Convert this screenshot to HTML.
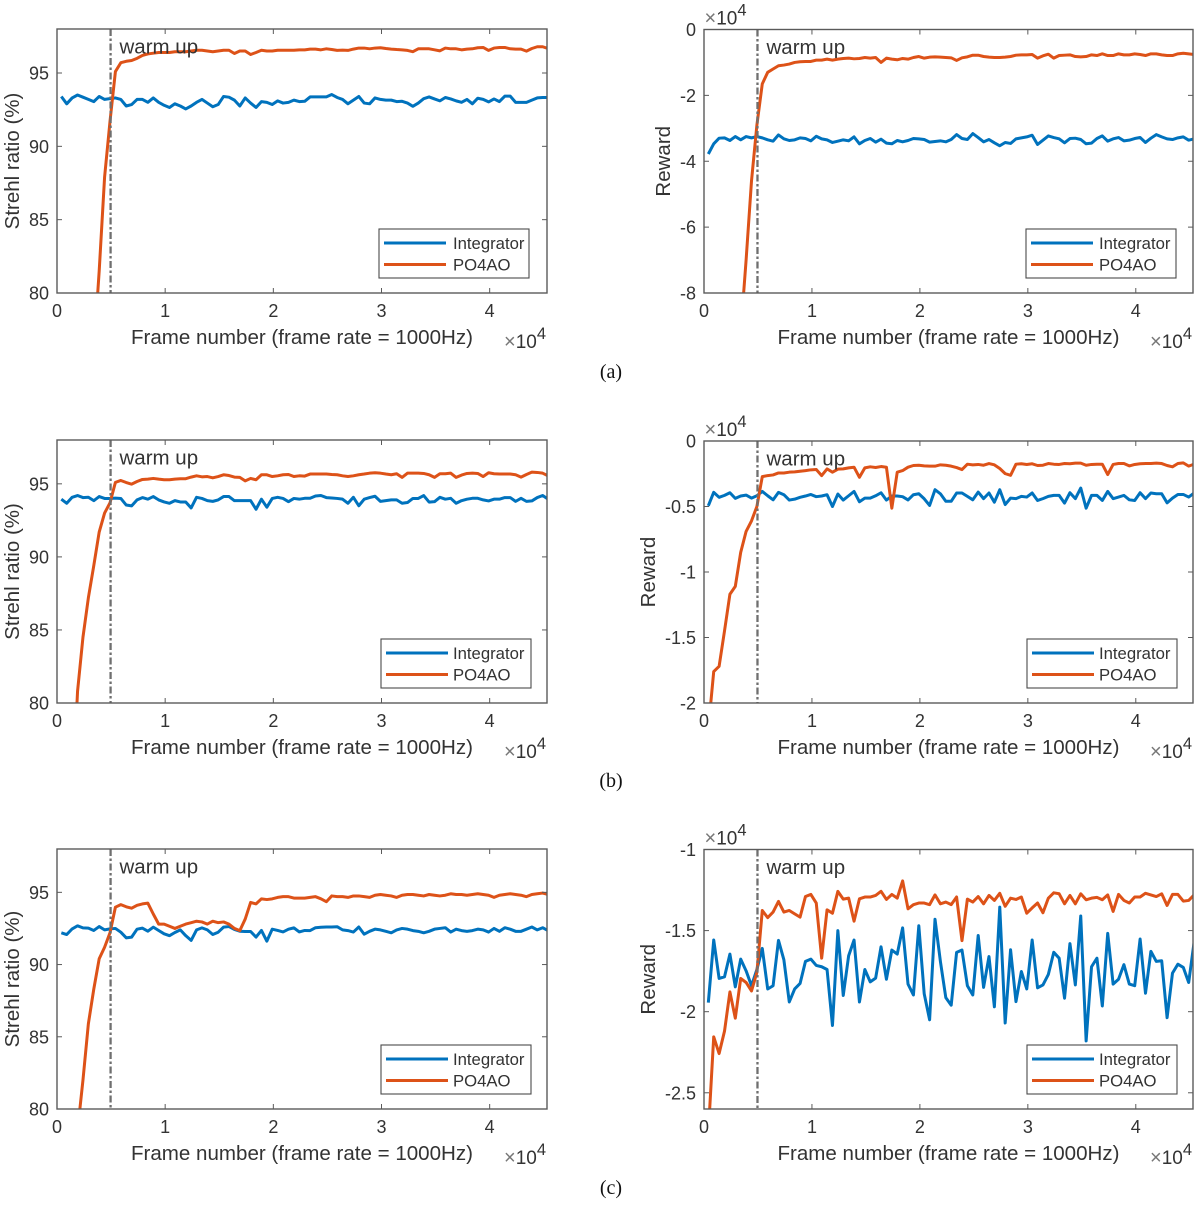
<!DOCTYPE html>
<html lang="en">
<head>
<meta charset="utf-8">
<title>Strehl ratio and reward charts</title>
<style>
html,body{margin:0;padding:0;background:#fff;width:1200px;height:1205px;overflow:hidden}
svg{display:block;font-family:"Liberation Sans",sans-serif;filter:blur(0.35px)}
</style>
</head>
<body>
<svg id="figure" xmlns="http://www.w3.org/2000/svg" width="1200" height="1205" viewBox="0 0 1200 1205">
<text x="611" y="378" text-anchor="middle" font-family="Liberation Serif, serif" font-size="20" fill="#111">(a)</text>
<text x="611" y="787" text-anchor="middle" font-family="Liberation Serif, serif" font-size="20" fill="#111">(b)</text>
<text x="611" y="1194" text-anchor="middle" font-family="Liberation Serif, serif" font-size="20" fill="#111">(c)</text>
</svg>
<script>
const frameStart = 400;
const frameStep = 500;
const warmUpFrame = 5000;
const xLimits = [0, 45300];
const xTicks = [0, 1, 2, 3, 4];
const legendLabels = ['Integrator', 'PO4AO'];

const strehlLimits = [80, 98];
const strehlTicks = [80, 85, 90, 95];
const rewardLimitsA = [-8, 0];
const rewardTicksA = [-8, -6, -4, -2, 0];
const rewardLimitsB = [-2, 0];
const rewardTicksB = [-2, -1.5, -1, -0.5, 0];
const rewardLimitsC = [-2.6, -1];
const rewardTicksC = [-2.5, -2, -1.5, -1];

const strehlIntegratorA = [93.4,92.9,93.3,93.5,93.35,93.2,93.05,93.4,93.2,93.25,93.3,93.2,92.75,92.85,93.2,93.2,93.0,93.3,93.0,92.8,92.65,92.9,92.75,92.55,92.75,93.0,93.2,92.95,92.7,92.85,93.4,93.35,93.15,92.75,93.3,92.95,92.65,93.05,93.0,92.85,93.1,92.95,93.0,93.15,93.05,93.07,93.37,93.37,93.37,93.37,93.53,93.33,93.2,92.9,93.15,93.4,92.95,92.9,93.3,93.2,93.15,93.15,93.05,93.07,92.95,92.73,92.95,93.25,93.37,93.23,93.1,93.33,93.23,93.1,93.0,93.2,92.9,93.28,93.2,93.03,93.23,93.05,93.42,93.42,93.0,93.0,93.0,93.15,93.3,93.33,93.33];
const strehlPo4aoA = [55,60,64,68,71,74,76,81.5,87.9,91.7,95.1,95.7,95.8,95.85,96,96.2,96.3,96.35,96.4,96.4,96.4,96.45,96.45,96.45,96.5,96.55,96.55,96.5,96.45,96.5,96.55,96.55,96.33,96.5,96.5,96.26,96.4,96.55,96.5,96.5,96.55,96.55,96.55,96.55,96.58,96.58,96.63,96.63,96.58,96.65,96.6,96.54,96.56,96.54,96.63,96.7,96.7,96.65,96.7,96.72,96.67,96.63,96.6,96.58,96.54,96.45,96.65,96.65,96.65,96.58,96.51,96.7,96.65,96.65,96.58,96.63,96.65,96.72,96.74,96.54,96.7,96.74,96.74,96.65,96.63,96.63,96.49,96.67,96.79,96.79,96.67];
const rewardIntegratorA = [-3.78,-3.47,-3.3,-3.29,-3.37,-3.25,-3.35,-3.25,-3.29,-3.25,-3.29,-3.35,-3.39,-3.2,-3.32,-3.37,-3.35,-3.29,-3.31,-3.38,-3.24,-3.32,-3.35,-3.43,-3.39,-3.35,-3.38,-3.26,-3.47,-3.37,-3.31,-3.42,-3.33,-3.45,-3.47,-3.37,-3.41,-3.37,-3.31,-3.32,-3.34,-3.42,-3.4,-3.38,-3.41,-3.34,-3.19,-3.31,-3.34,-3.16,-3.28,-3.41,-3.34,-3.44,-3.53,-3.43,-3.46,-3.32,-3.29,-3.26,-3.21,-3.49,-3.36,-3.23,-3.28,-3.32,-3.44,-3.31,-3.3,-3.34,-3.47,-3.45,-3.31,-3.23,-3.39,-3.32,-3.28,-3.38,-3.36,-3.31,-3.28,-3.43,-3.3,-3.19,-3.26,-3.32,-3.34,-3.29,-3.26,-3.36,-3.32];
const rewardPo4aoA = [-16,-15,-14,-13,-12,-10.5,-9.2,-7,-4.6,-2.9,-1.65,-1.3,-1.2,-1.1,-1.08,-1.05,-1.0,-0.98,-0.97,-0.97,-0.93,-0.93,-0.9,-0.93,-0.9,-0.88,-0.87,-0.89,-0.88,-0.85,-0.87,-0.85,-1.0,-0.87,-0.9,-0.92,-0.88,-0.9,-0.85,-0.82,-0.87,-0.84,-0.83,-0.84,-0.85,-0.86,-0.94,-0.86,-0.83,-0.78,-0.78,-0.82,-0.84,-0.85,-0.85,-0.84,-0.82,-0.78,-0.77,-0.77,-0.76,-0.87,-0.8,-0.75,-0.87,-0.79,-0.78,-0.77,-0.82,-0.83,-0.82,-0.77,-0.79,-0.74,-0.79,-0.79,-0.74,-0.77,-0.77,-0.74,-0.76,-0.79,-0.74,-0.74,-0.77,-0.79,-0.79,-0.74,-0.72,-0.74,-0.76];

const strehlIntegratorB = [93.95,93.67,94.08,94.2,94.06,94.08,93.85,94.13,94,94,94.02,94,93.55,93.49,93.9,94.06,93.95,94.13,93.9,93.76,93.67,93.85,93.76,93.76,93.35,94.08,94,93.85,93.8,93.9,94.13,94.13,93.85,93.85,93.85,93.85,93.26,93.95,93.4,94,94.08,94,93.78,94,93.95,94.01,94.01,94.17,94.2,94.06,94.03,94,93.95,93.67,94.08,93.5,93.95,94.06,94.15,93.8,93.85,93.9,93.9,93.67,93.72,94,94,94.2,93.75,93.78,94.08,93.95,94.01,93.67,93.85,93.95,94.01,94.01,93.9,93.83,93.95,93.95,94.06,94.06,93.8,94.01,93.8,93.83,94.06,94.2,93.95];
const strehlPo4aoB = [60,66,73,80.8,84.5,87.2,89.4,91.7,93,93.7,95.1,95.23,95.09,94.98,95.16,95.3,95.32,95.37,95.32,95.28,95.28,95.32,95.35,95.35,95.46,95.55,95.48,95.5,95.41,95.5,95.62,95.57,95.46,95.44,95.2,95.37,95.28,95.62,95.62,95.5,95.55,95.62,95.64,95.5,95.55,95.53,95.67,95.67,95.67,95.67,95.64,95.62,95.55,95.5,95.55,95.62,95.67,95.73,95.76,95.73,95.67,95.62,95.69,95.44,95.73,95.73,95.73,95.71,95.62,95.44,95.69,95.69,95.73,95.44,95.6,95.71,95.73,95.71,95.5,95.76,95.69,95.67,95.67,95.67,95.62,95.46,95.64,95.8,95.78,95.73,95.55];
const rewardIntegratorB = [-0.495,-0.392,-0.43,-0.415,-0.395,-0.438,-0.42,-0.413,-0.436,-0.418,-0.385,-0.418,-0.449,-0.392,-0.41,-0.451,-0.444,-0.43,-0.42,-0.408,-0.425,-0.42,-0.41,-0.5,-0.405,-0.451,-0.418,-0.385,-0.464,-0.436,-0.436,-0.418,-0.395,-0.451,-0.42,-0.42,-0.425,-0.45,-0.41,-0.403,-0.441,-0.492,-0.372,-0.403,-0.46,-0.46,-0.397,-0.397,-0.423,-0.449,-0.39,-0.44,-0.397,-0.467,-0.372,-0.485,-0.436,-0.44,-0.423,-0.428,-0.397,-0.454,-0.44,-0.423,-0.415,-0.415,-0.474,-0.395,-0.44,-0.359,-0.513,-0.415,-0.415,-0.454,-0.385,-0.44,-0.428,-0.415,-0.449,-0.454,-0.395,-0.44,-0.397,-0.403,-0.403,-0.472,-0.436,-0.408,-0.408,-0.428,-0.397];
const rewardPo4aoB = [-2.2,-1.76,-1.72,-1.45,-1.17,-1.11,-0.85,-0.69,-0.61,-0.5,-0.272,-0.264,-0.259,-0.244,-0.244,-0.238,-0.236,-0.231,-0.226,-0.22,-0.218,-0.264,-0.213,-0.238,-0.215,-0.213,-0.205,-0.2,-0.277,-0.205,-0.197,-0.202,-0.195,-0.2,-0.513,-0.238,-0.226,-0.2,-0.187,-0.185,-0.19,-0.192,-0.192,-0.182,-0.185,-0.192,-0.203,-0.218,-0.177,-0.182,-0.179,-0.185,-0.172,-0.182,-0.21,-0.249,-0.262,-0.177,-0.174,-0.179,-0.174,-0.187,-0.185,-0.172,-0.177,-0.179,-0.172,-0.174,-0.169,-0.169,-0.185,-0.179,-0.177,-0.177,-0.256,-0.179,-0.172,-0.172,-0.19,-0.179,-0.174,-0.172,-0.172,-0.169,-0.172,-0.187,-0.197,-0.172,-0.167,-0.192,-0.177];

const strehlIntegratorC = [92.2,92.08,92.47,92.68,92.54,92.52,92.36,92.63,92.4,92.47,92.5,92.24,91.85,91.9,92.45,92.52,92.31,92.59,92.36,92.13,92,92.22,92.4,92,91.67,92.4,92.54,92.4,92.08,92.24,92.59,92.63,92.43,92.31,92.29,92.29,91.9,92.36,91.62,92.45,92.36,92.26,92.45,92.54,92.26,92.36,92.35,92.55,92.58,92.6,92.6,92.62,92.4,92.35,92.25,92.6,92.1,92.3,92.45,92.4,92.3,92.2,92.4,92.5,92.45,92.35,92.3,92.2,92.3,92.45,92.5,92.55,92.25,92.45,92.35,92.3,92.35,92.45,92.4,92.25,92.5,92.3,92.55,92.45,92.3,92.3,92.45,92.6,92.4,92.55,92.35];
const strehlPo4aoC = [74,75,76.5,78.5,82,85.9,88.3,90.4,91.2,92.2,93.97,94.15,94,93.9,94.1,94.2,94.25,93.5,92.8,92.8,92.65,92.5,92.65,92.8,92.9,93,92.95,92.8,93,92.9,92.95,92.8,92.5,92.35,93.15,94.3,94.2,94.55,94.5,94.55,94.65,94.7,94.7,94.6,94.6,94.6,94.65,94.7,94.55,94.35,94.75,94.7,94.7,94.65,94.75,94.75,94.7,94.65,94.8,94.85,94.8,94.75,94.65,94.8,94.85,94.85,94.8,94.75,94.85,94.8,94.75,94.8,94.9,94.85,94.85,94.8,94.85,94.9,94.85,94.8,94.65,94.8,94.85,94.9,94.85,94.8,94.7,94.85,94.9,94.95,94.85];
const rewardIntegratorC = [-1.944,-1.558,-1.795,-1.785,-1.645,-1.847,-1.676,-1.748,-1.84,-1.74,-1.61,-1.86,-1.84,-1.56,-1.68,-1.94,-1.86,-1.826,-1.69,-1.676,-1.715,-1.723,-1.74,-2.085,-1.5,-1.9,-1.655,-1.558,-1.94,-1.74,-1.816,-1.793,-1.6,-1.8,-1.62,-1.645,-1.483,-1.83,-1.897,-1.47,-1.89,-2.05,-1.43,-1.69,-1.913,-1.96,-1.634,-1.62,-1.84,-1.897,-1.53,-1.85,-1.66,-1.97,-1.355,-2.07,-1.618,-1.938,-1.752,-1.86,-1.558,-1.853,-1.835,-1.77,-1.634,-1.67,-1.917,-1.58,-1.835,-1.41,-2.18,-1.723,-1.67,-1.965,-1.517,-1.83,-1.8,-1.71,-1.83,-1.84,-1.552,-1.886,-1.628,-1.69,-1.686,-2.037,-1.762,-1.707,-1.727,-1.82,-1.572];
const rewardPo4aoC = [-2.75,-2.155,-2.258,-2.12,-1.878,-2.04,-1.795,-1.82,-1.872,-1.758,-1.376,-1.42,-1.386,-1.32,-1.386,-1.376,-1.397,-1.417,-1.29,-1.277,-1.33,-1.67,-1.372,-1.393,-1.258,-1.306,-1.3,-1.442,-1.304,-1.293,-1.293,-1.283,-1.258,-1.308,-1.277,-1.3,-1.194,-1.366,-1.34,-1.33,-1.33,-1.34,-1.28,-1.335,-1.324,-1.34,-1.293,-1.562,-1.306,-1.324,-1.29,-1.335,-1.283,-1.314,-1.27,-1.35,-1.3,-1.308,-1.293,-1.393,-1.36,-1.33,-1.39,-1.3,-1.267,-1.273,-1.335,-1.283,-1.335,-1.273,-1.31,-1.3,-1.295,-1.31,-1.28,-1.382,-1.277,-1.314,-1.33,-1.293,-1.293,-1.27,-1.28,-1.29,-1.273,-1.345,-1.277,-1.277,-1.318,-1.314,-1.28];

const panels = [
  {id:'a-strehl', box:[57,29,547,293], limits:strehlLimits, ticks:strehlTicks, blue:strehlIntegratorA, red:strehlPo4aoA, title:'Strehl ratio (%)', titleX:19, legend:[379,229], legendText:74, topExp:false},
  {id:'a-reward', box:[704,29.5,1193,293], limits:rewardLimitsA, ticks:rewardTicksA, blue:rewardIntegratorA, red:rewardPo4aoA, title:'Reward', titleX:670, legend:[1026,229], legendText:73, topExp:true},
  {id:'b-strehl', box:[57,440,547,703], limits:strehlLimits, ticks:strehlTicks, blue:strehlIntegratorB, red:strehlPo4aoB, title:'Strehl ratio (%)', titleX:19, legend:[381,639], legendText:72, topExp:false},
  {id:'b-reward', box:[704,441,1193,703], limits:rewardLimitsB, ticks:rewardTicksB, blue:rewardIntegratorB, red:rewardPo4aoB, title:'Reward', titleX:655, legend:[1027,639], legendText:72, topExp:true},
  {id:'c-strehl', box:[57,849,547,1109], limits:strehlLimits, ticks:strehlTicks, blue:strehlIntegratorC, red:strehlPo4aoC, title:'Strehl ratio (%)', titleX:19, legend:[381,1045], legendText:72, topExp:false},
  {id:'c-reward', box:[704,849.5,1193,1109], limits:rewardLimitsC, ticks:rewardTicksC, blue:rewardIntegratorC, red:rewardPo4aoC, title:'Reward', titleX:655, legend:[1027,1045], legendText:72, topExp:true}
];

const NS = 'http://www.w3.org/2000/svg';
const figure = document.getElementById('figure');
const AXIS = '#5a5a5a';
const TEXT = '#333333';
const BLUE = '#0072BD';
const RED = '#DD5218';

function make(tag, parent, props, content) {
  const node = document.createElementNS(NS, tag);
  for (const key in props) node.setAttribute(key, props[key]);
  if (content !== undefined) node.textContent = content;
  parent.appendChild(node);
  return node;
}

function drawExponent(parent, x, y) {
  const el = make('text', parent, {x: x, y: y, 'font-size': 19, fill: TEXT});
  
  
  make('tspan', el, {fill: '#777', 'font-size': 20}, '\u00D7');
  make('tspan', el, {}, '10');
  make('tspan', el, {dy: -9, 'font-size': 16.5}, '4');
}

function drawPanel(p) {
  const [x0, y0, x1, y1] = p.box;
  const sx = v => x0 + (v - xLimits[0]) / (xLimits[1] - xLimits[0]) * (x1 - x0);
  const sy = v => y1 - (v - p.limits[0]) / (p.limits[1] - p.limits[0]) * (y1 - y0);

  const group = make('g', figure, {});
  
  

  const clip = make('clipPath', group, {id: 'clip-' + p.id});
  make('rect', clip, {x: x0, y: y0, width: x1 - x0, height: y1 - y0});

  const plotSeries = (values, color) => {
    const d = values.map((v, i) => (i ? 'L' : 'M') + sx(frameStart + i * frameStep).toFixed(2) + ' ' + sy(v).toFixed(2)).join('');
    return make('path', group, {d: d, fill: 'none', stroke: color, 'stroke-width': 3, 'stroke-linejoin': 'round', 'clip-path': 'url(#clip-' + p.id + ')'});
  };
  const blueLine = plotSeries(p.blue, BLUE);
  
  
  const redLine = plotSeries(p.red, RED);
  
  

  const warm = make('line', group, {x1: sx(warmUpFrame) - 0.5, x2: sx(warmUpFrame) - 0.5, y1: y0, y2: y1, stroke: '#6f6f6f', 'stroke-width': 2.3, 'stroke-dasharray': '7 2.5 2.5 2.5'});
  
  
  const warmText = make('text', group, {x: x0 + 62.5, y: y0 + 24.5, 'font-size': 20.5, fill: TEXT}, 'warm up');
  
  

  const frame = make('rect', group, {x: x0, y: y0, width: x1 - x0, height: y1 - y0, fill: 'none', stroke: AXIS, 'stroke-width': 1.4});
  
  

  xTicks.forEach(t => {
    const px = sx(t * 10000);
    const bottom = make('line', group, {x1: px, x2: px, y1: y1, y2: y1 - 5, stroke: AXIS, 'stroke-width': 1});
    
    
    const top = make('line', group, {x1: px, x2: px, y1: y0, y2: y0 + 5, stroke: AXIS, 'stroke-width': 1});
    
    
    const label = make('text', group, {x: px, y: y1 + 24, 'text-anchor': 'middle', 'font-size': 18, fill: TEXT}, String(t));
    
    
  });

  p.ticks.forEach(t => {
    const py = sy(t);
    const left = make('line', group, {x1: x0, x2: x0 + 5, y1: py, y2: py, stroke: AXIS, 'stroke-width': 1});
    
    
    const right = make('line', group, {x1: x1, x2: x1 - 5, y1: py, y2: py, stroke: AXIS, 'stroke-width': 1});
    
    
    const label = make('text', group, {x: x0 - 8, y: py + 6.5, 'text-anchor': 'end', 'font-size': 18, fill: TEXT}, String(t));
    
    
  });

  const xTitle = make('text', group, {x: (x0 + x1) / 2, y: y1 + 51, 'text-anchor': 'middle', 'font-size': 20.55, fill: TEXT}, 'Frame number (frame rate = 1000Hz)');
  
  
  const cy = (y0 + y1) / 2;
  const yTitle = make('text', group, {x: p.titleX, y: cy, transform: 'rotate(-90 ' + p.titleX + ' ' + cy + ')', 'text-anchor': 'middle', 'font-size': 20.5, fill: TEXT}, p.title);
  
  

  drawExponent(group, x1 - 43, y1 + 55);
  if (p.topExp) drawExponent(group, x0 + 0.5, y0 - 5);

  const [lx, ly] = p.legend;
  const legend = make('g', group, {});
  
  
  const legendBox = make('rect', legend, {x: lx, y: ly, width: 150, height: 49, fill: '#fff', stroke: '#4a4a4a', 'stroke-width': 1.1});
  
  
  legendLabels.forEach((name, i) => {
    const rowY = ly + 14 + i * 21.5;
    const sample = make('line', legend, {x1: lx + 5, x2: lx + 67, y1: rowY, y2: rowY, stroke: i ? RED : BLUE, 'stroke-width': 3});
    
    
    const entry = make('text', legend, {x: lx + p.legendText, y: rowY + 6, 'font-size': 16.7, fill: TEXT}, name);
    
    
  });
}

panels.forEach(drawPanel);
</script>
</body>
</html>
